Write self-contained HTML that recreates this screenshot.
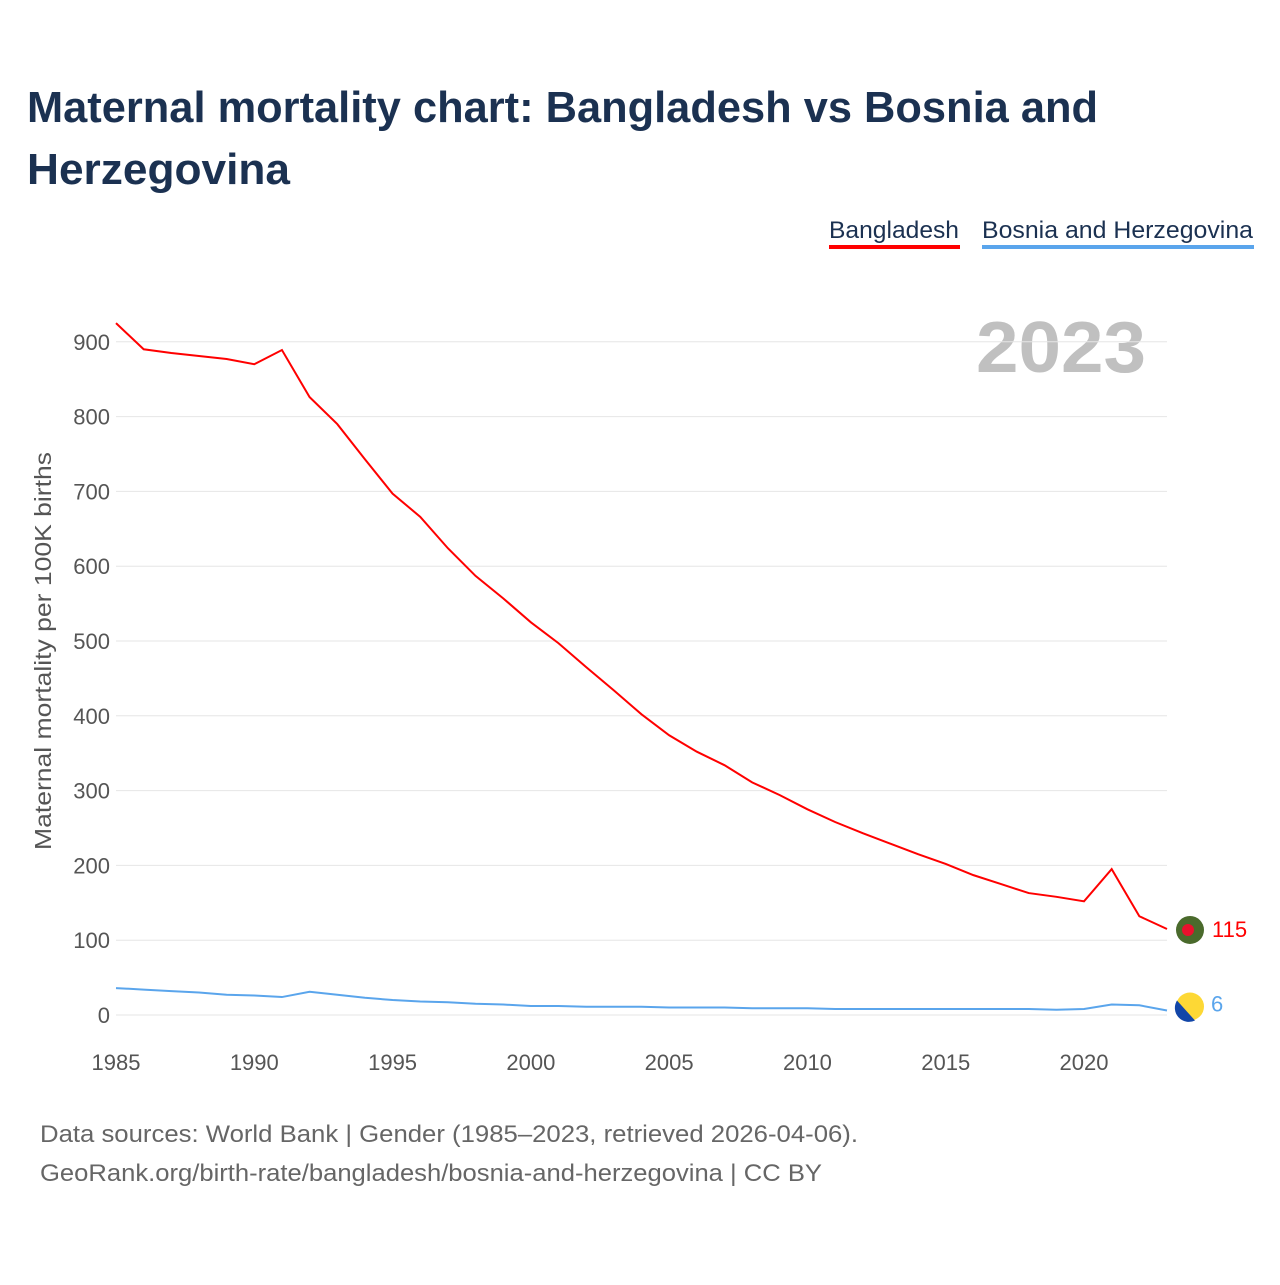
<!DOCTYPE html>
<html><head><meta charset="utf-8"><style>
body{margin:0;background:#fff;font-family:"Liberation Sans",sans-serif}
svg text{font-family:"Liberation Sans",sans-serif}
</style></head><body>
<svg id="c" width="1280" height="1280" viewBox="0 0 1280 1280">
<rect width="1280" height="1280" fill="#fff"/>
<text x="27" y="122" font-size="44" font-weight="bold" fill="#1b3151" textLength="1071" lengthAdjust="spacingAndGlyphs">Maternal mortality chart: Bangladesh vs Bosnia and</text>
<text x="27" y="184" font-size="44" font-weight="bold" fill="#1b3151" textLength="263" lengthAdjust="spacingAndGlyphs">Herzegovina</text>
<g><text x="829" y="238" font-size="24" fill="#1b3151" textLength="130" lengthAdjust="spacingAndGlyphs">Bangladesh</text><rect x="829" y="245" width="131" height="4" fill="#ff0000"/></g>
<g><text x="982" y="238" font-size="24" fill="#1b3151" textLength="271" lengthAdjust="spacingAndGlyphs">Bosnia and Herzegovina</text><rect x="982" y="245" width="272" height="4" fill="#5aa5ec"/></g>
<text x="1146" y="372" font-size="72" font-weight="bold" fill="#c0c0c0" text-anchor="end" textLength="170" lengthAdjust="spacingAndGlyphs">2023</text>
<g id="grid"></g><g id="xt"></g>
<text transform="translate(51,651) rotate(-90)" font-size="23" fill="#555" text-anchor="middle" textLength="398" lengthAdjust="spacingAndGlyphs">Maternal mortality per 100K births</text>
<g id="series"></g>
<text x="40" y="1142" font-size="24" fill="#666" textLength="818" lengthAdjust="spacingAndGlyphs">Data sources: World Bank | Gender (1985–2023, retrieved 2026-04-06).</text>
<text x="40" y="1181" font-size="24" fill="#666" textLength="782" lengthAdjust="spacingAndGlyphs">GeoRank.org/birth-rate/bangladesh/bosnia-and-herzegovina | CC BY</text>
</svg>
<script>
const years=[1985,1986,1987,1988,1989,1990,1991,1992,1993,1994,1995,1996,1997,1998,1999,2000,2001,2002,2003,2004,2005,2006,2007,2008,2009,2010,2011,2012,2013,2014,2015,2016,2017,2018,2019,2020,2021,2022,2023];
const bangladesh=[925,890,885,881,877,870,889,826,790,743,697,666,624,587,557,525,497,465,434,402,374,352,334,311,294,275,258,243,229,215,202,187,175,163,158,152,195,132,115];
const bosnia=[36,34,32,30,27,26,24,31,27,23,20,18,17,15,14,12,12,11,11,11,10,10,10,9,9,9,8,8,8,8,8,8,8,8,7,8,14,13,6];
const yTicks=[0,100,200,300,400,500,600,700,800,900];
const xTicks=[1985,1990,1995,2000,2005,2010,2015,2020];
const NS="http://www.w3.org/2000/svg";
const X=y=>116+(y-1985)*(1167-116)/38;
const Y=v=>1015-v*0.748;
function mk(t,a,p){const e=document.createElementNS(NS,t);for(const k in a)e.setAttribute(k,a[k]);p.appendChild(e);return e;}
const grid=document.getElementById('grid');
yTicks.forEach(v=>{
const l=mk('line',{x1:116,x2:1167,y1:Y(v),y2:Y(v),stroke:'#e6e6e6','stroke-width':1},grid);


const t=mk('text',{x:110,y:Y(v)+8,'font-size':22,fill:'#555','text-anchor':'end'},grid);t.textContent=v;


});
const xt=document.getElementById('xt');
xTicks.forEach(v=>{
const t=mk('text',{x:X(v),y:1070,'font-size':22,fill:'#555','text-anchor':'middle'},xt);t.textContent=v;


});
const s=document.getElementById('series');
function line(vals,col,name){
const p=mk('polyline',{points:vals.map((v,i)=>X(years[i])+','+Y(v)).join(' '),fill:'none',stroke:col,'stroke-width':2},s);


}
line(bangladesh,'#ff0000','bangladesh-line');
line(bosnia,'#5aa5ec','bosnia-line');
const lb=bangladesh[bangladesh.length-1],lz=bosnia[bosnia.length-1];
const f1=mk('circle',{cx:1190,cy:Y(lb)+1,r:14,fill:'#4a6a2c'},s);


mk('circle',{cx:1188,cy:Y(lb)+1,r:6,fill:'#e8112d'},s);
const f2=mk('circle',{cx:1190,cy:Y(lz)-4,r:14,fill:'#fdd835'},s);


mk('path',{d:`M${1177} ${Y(lz)-10} L${1195} ${Y(lz)+10} A14 14 0 0 1 ${1177} ${Y(lz)-10} Z`,fill:'#1246a8'},s);
const t1=mk('text',{x:1212,y:Y(lb)+8,'font-size':22,fill:'#ff0000'},s);t1.textContent=lb;


const t2=mk('text',{x:1211,y:Y(lz)+1,'font-size':22,fill:'#5aa5ec'},s);t2.textContent=lz;


</script>
</body></html>
